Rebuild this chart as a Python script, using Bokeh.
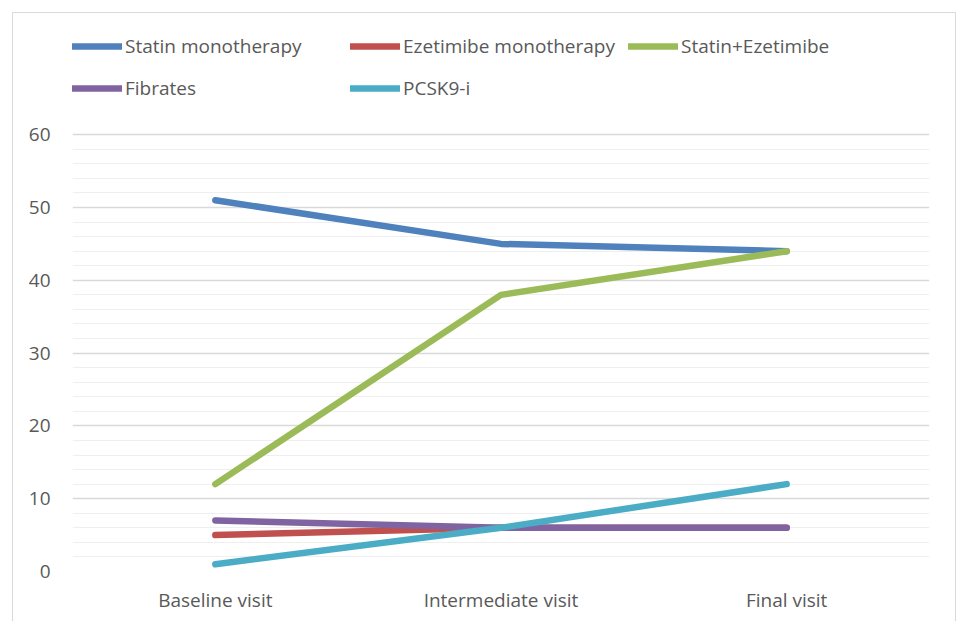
from bokeh.plotting import figure
from bokeh.models import Legend, LegendItem, FixedTicker, Range1d
from bokeh.embed import file_html
from bokeh.resources import INLINE

visits = ["Baseline visit", "Intermediate visit", "Final visit"]
statin_mono = [51, 45, 44]
ezetimibe_mono = [5, 6, 6]
statin_ezetimibe = [12, 38, 44]
fibrates = [7, 6, 6]
pcsk9 = [1, 6, 12]
y_ticks = [0, 10, 20, 30, 40, 50, 60]
y_minor_ticks = [2, 4, 6, 8, 12, 14, 16, 18, 22, 24, 26, 28, 32, 34, 36, 38,
                 42, 44, 46, 48, 52, 54, 56, 58]

series = [
    ("Statin monotherapy", statin_mono, "#4F81BD"),
    ("Ezetimibe monotherapy", ezetimibe_mono, "#C0504D"),
    ("Statin+Ezetimibe", statin_ezetimibe, "#9BBB59"),
    ("Fibrates", fibrates, "#8064A2"),
    ("PCSK9-i", pcsk9, "#4BACC6"),
]

FONT = "Open Sans"
TXT = "#595959"
FS = "19px"

# frame extends above 60 so the legend (drawn inside the frame) has room
p = figure(x_range=visits, width=942, height=608, output_backend="svg",
           toolbar_location=None, min_border_left=59, min_border_right=26,
           min_border_top=12, min_border_bottom=50)
p.styles = {"margin-left": "13px", "margin-top": "13px", "outline": "1px solid #d9d9d9"}
p.y_range = Range1d(0, 75)
p.outline_line_color = None
p.background_fill_color = "white"
p.border_fill_color = "white"

items = []
for name, vals, col in series:
    r = p.line(visits, vals, line_color=col, line_width=6.5, line_cap="round", line_join="round")
    items.append(LegendItem(label=name, renderers=[r]))

p.yaxis.ticker = FixedTicker(ticks=y_ticks, minor_ticks=y_minor_ticks)
for ax in (p.xaxis[0], p.yaxis[0]):
    ax.axis_line_color = None
    ax.major_tick_line_color = None
    ax.minor_tick_line_color = None
    ax.major_tick_out = 0
    ax.major_tick_in = 0
    ax.minor_tick_out = 0
    ax.minor_tick_in = 0
    ax.major_label_text_font = FONT
    ax.major_label_text_font_size = FS
    ax.major_label_text_color = TXT
p.yaxis.major_label_standoff = 22
p.xaxis.major_label_standoff = 15

p.xgrid.grid_line_color = None
p.ygrid.grid_line_color = "#d9d9d9"
p.ygrid.grid_line_width = 1.5
p.ygrid.minor_grid_line_color = "#efefef"
p.ygrid.minor_grid_line_width = 1

legend = Legend(items=items, orientation="horizontal", ncols=3,
                location=(0, 462), spacing=0, padding=0, margin=0,
                glyph_width=50, glyph_height=42, label_height=42,
                label_width=225, label_standoff=3,
                label_text_font=FONT, label_text_font_size=FS,
                label_text_color=TXT, background_fill_alpha=0,
                border_line_color=None)
p.add_layout(legend, "center")

open("out.html", "w").write(file_html(p, INLINE))
